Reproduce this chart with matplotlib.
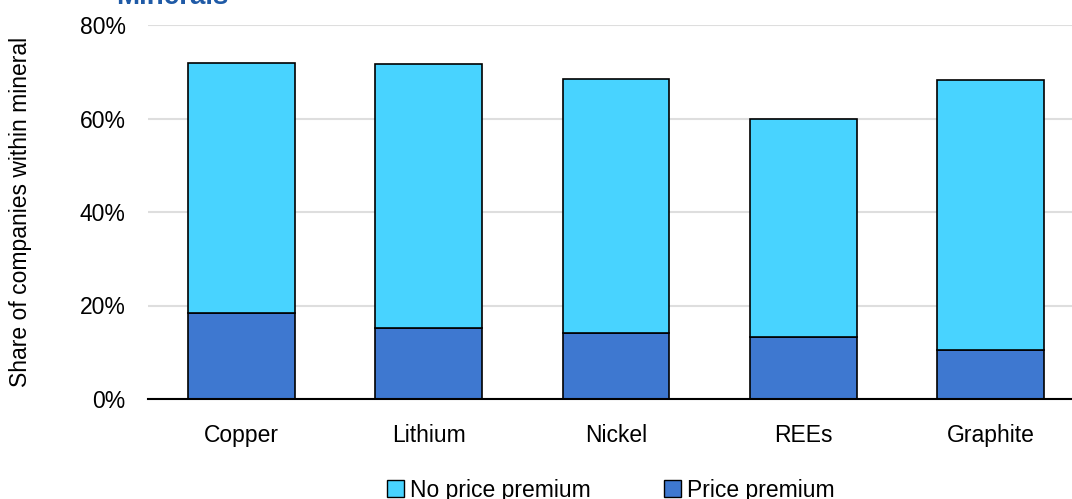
import numpy as np
import matplotlib
matplotlib.use("Agg")
from matplotlib import pyplot as plt
from matplotlib.patches import Patch

plt.rcParams['font.family'] = ['Liberation Sans', 'DejaVu Sans']

minerals = ['Copper', 'Lithium', 'Nickel', 'REEs', 'Graphite']
price_premium = [18.5, 15.2, 14.1, 13.3, 10.4]
total = [71.9, 71.7, 68.4, 59.9, 68.2]
no_premium = [t - p for t, p in zip(total, price_premium)]

c_dark = '#3E78D0'
c_light = '#48D3FF'

fig = plt.figure(figsize=(10.72, 4.99), dpi=100)
ax = fig.add_axes([148 / 1072, 100 / 499, 924 / 1072, 374 / 499])

x = np.arange(len(minerals))
w = 0.57
ax.bar(x, price_premium, w, color=c_dark, edgecolor='black', linewidth=1.2, zorder=3)
ax.bar(x, no_premium, w, bottom=price_premium, color=c_light, edgecolor='black',
       linewidth=1.2, zorder=3)

ax.set_xlim(-0.5, 4.435)
ax.set_ylim(0, 80)
ax.set_yticks([0, 20, 40, 60, 80])
ax.set_yticklabels(['0%', '20%', '40%', '60%', '80%'])
ax.set_xticks(x)
ax.set_xticklabels(minerals)
ax.tick_params(axis='both', labelsize=16.5, length=0, colors='black')
ax.tick_params(axis='y', pad=16)
ax.tick_params(axis='x', pad=18)
ax.yaxis.grid(True, color='#DEDEDE', linewidth=1.5, zorder=0)
for s in ['top', 'right', 'left']:
    ax.spines[s].set_visible(False)
ax.spines['bottom'].set_linewidth(1.5)
ax.spines['bottom'].set_zorder(4)
ax.set_ylabel('Share of companies within mineral', fontsize=16.5)
ax.yaxis.set_label_coords(-0.1255, 0.5)

fig.text(116 / 1072, 1 - 4 / 499, 'Minerals', fontsize=20, fontweight='bold',
         color='#1F5AA6', ha='left', va='baseline')

handles = [Patch(facecolor=c_light, edgecolor='black', label='No price premium'),
           Patch(facecolor=c_dark, edgecolor='black', label='Price premium')]
fig.legend(handles=handles, loc='center', bbox_to_anchor=(0.57, 9 / 499), ncol=2,
           frameon=False, fontsize=16.5, handlelength=0.75, handleheight=0.75,
           handletextpad=0.25, columnspacing=3.2)

fig.savefig('out.png', dpi=100)
